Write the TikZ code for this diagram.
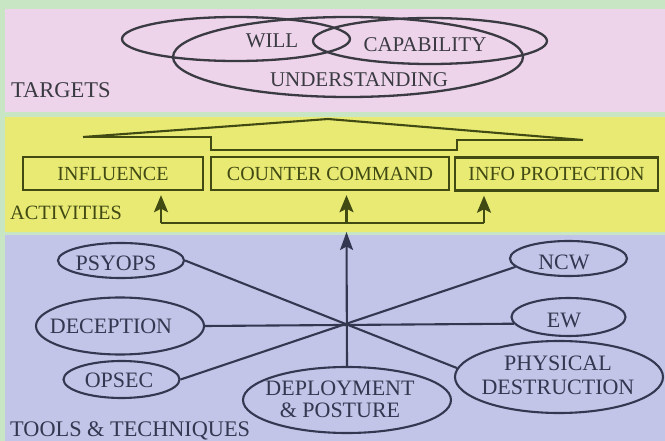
\documentclass[tikz,border=0pt]{standalone}
\usepackage{fontspec}
\setmainfont{Liberation Serif}
\usetikzlibrary{shapes.geometric,arrows.meta,calc}
\definecolor{bggreen}{HTML}{C8E6C3}
\definecolor{tpink}{HTML}{EDD4EA}
\definecolor{ayellow}{HTML}{E9EA74}
\definecolor{tblue}{HTML}{C2C5E8}
\definecolor{tgtink}{HTML}{3A3A42}
\definecolor{actink}{HTML}{404A12}
\definecolor{toolink}{HTML}{33374F}
\begin{document}
\begin{tikzpicture}[x=1pt,y=-1pt,
  venn/.style={ellipse,draw=tgtink,line width=2.3pt,inner sep=0pt},
  ttxt/.style={text=tgtink,font=\rmfamily\fontsize{21}{24}\selectfont,inner sep=0pt},
  actbox/.style={rectangle,draw=actink,line width=2.4pt,inner sep=0pt,text=actink,font=\rmfamily\fontsize{20}{24}\selectfont,minimum height=33pt},
  actline/.style={draw=actink,line width=2.3pt},
  actarrow/.style={actline,-{Stealth[length=17pt,width=14pt,inset=3.5pt]}},
  toolshape/.style={ellipse,draw=toolink,line width=2.1pt,inner sep=0pt},
  tooltxt/.style={text=toolink,font=\rmfamily\fontsize{22}{22}\selectfont,inner sep=0pt,align=center},
  toolline/.style={draw=toolink,line width=2.1pt},
  sectlabel/.style={anchor=base west,inner sep=0pt}
]
\useasboundingbox (0,0) rectangle (665,441);
% backgrounds
\fill[bggreen] (0,0) rectangle (665,441);
\fill[tpink] (5,9) rectangle (665,112);
\fill[ayellow] (5,117) rectangle (665,232);
\fill[tblue] (5,235) rectangle (665,441);

% ---------- TARGETS ----------
\node[venn,minimum width=228pt,minimum height=44pt] (willE) at (236,39) {};
\node[venn,minimum width=234pt,minimum height=46pt] (capE) at (430,41) {};
\node[venn,minimum width=350pt,minimum height=80pt] (undE) at (348,57) {};
\node[ttxt] (willT) at (272,40.5) {WILL};
\node[ttxt] (capT) at (425,44.5) {CAPABILITY};
\node[ttxt] (undT) at (359,79.5) {UNDERSTANDING};
\node[sectlabel,text=tgtink,font=\rmfamily\fontsize{22.5}{24}\selectfont] (tgtL) at (11,98) {TARGETS};

% ---------- ACTIVITIES ----------
\coordinate (rL) at (83,137);
\coordinate (rTop) at (328,119);
\coordinate (rR) at (583,140);
\draw[actline,line width=2.1pt] (rL) -- (rTop) -- (rR);
\draw[actline,line join=miter] (rL) -- (211,137) -- (211,150) -- (457,150) -- (457,140) -- (rR);

\node[actbox,minimum width=180pt] (inf) at (113,173.5) {INFLUENCE};
\node[actbox,minimum width=238pt] (cc) at (330,173.5) {COUNTER COMMAND};
\node[actbox,minimum width=203pt] (ip) at (556.5,174) {INFO PROTECTION};
\node[sectlabel,text=actink,font=\rmfamily\fontsize{20.3}{24}\selectfont] (actL) at (10,220) {ACTIVITIES};

\coordinate (bl) at (161,223);
\coordinate (bm) at (346.5,223);
\coordinate (br) at (484,223);
\draw[actline] (bl) -- (br);
\draw[actarrow,shorten >=4pt] (bl) -- (bl |- inf.south);
\draw[actarrow,shorten >=4pt] (bm) -- (bm |- cc.south);
\draw[actarrow,shorten >=4pt] (br) -- (br |- ip.south);

% ---------- TOOLS & TECHNIQUES ----------
\node[toolshape,minimum width=126pt,minimum height=35pt] (psy) at (121,260.5) {};
\node[toolshape,minimum width=168pt,minimum height=57pt] (dec) at (120,326) {};
\node[toolshape,minimum width=116pt,minimum height=37pt] (ops) at (121.5,379.5) {};
\node[toolshape,minimum width=208pt,minimum height=66pt] (dep) at (347,400) {};
\node[toolshape,minimum width=117pt,minimum height=35pt] (ncw) at (568.5,258.5) {};
\node[toolshape,minimum width=114pt,minimum height=38pt] (ew) at (568.5,317) {};
\node[toolshape,minimum width=208pt,minimum height=72pt] (pd) at (559,377) {};

\node[tooltxt] (psyT) at (116,263) {PSYOPS};
\node[tooltxt] (decT) at (111,326.5) {DECEPTION};
\node[tooltxt] (opsT) at (119,380.5) {OPSEC};
\node[tooltxt] (depT) at (340,399) {DEPLOYMENT\\\& POSTURE};
\node[tooltxt] (ncwT) at (564,262) {NCW};
\node[tooltxt] (ewT) at (564,320) {EW};
\node[tooltxt,font=\rmfamily\fontsize{22}{24}\selectfont] (pdT) at (558,375.5) {PHYSICAL\\DESTRUCTION};
\node[sectlabel,text=toolink,font=\rmfamily\fontsize{22.3}{24}\selectfont] (toolL) at (10,436) {TOOLS \& TECHNIQUES};

\coordinate (hub) at (346.5,324);
\coordinate (mainTip) at (346.5,232);
\draw[toolline] (psy.east) -- (pd.175);
\draw[toolline] (ops.east) -- (ncw.189);
\draw[toolline] (dec.east) -- (ew.187.5);
\draw[toolline,-{Stealth[length=18pt,width=13pt,inset=3.5pt]}] (dep.north) -- (mainTip);
\end{tikzpicture}
\end{document}
